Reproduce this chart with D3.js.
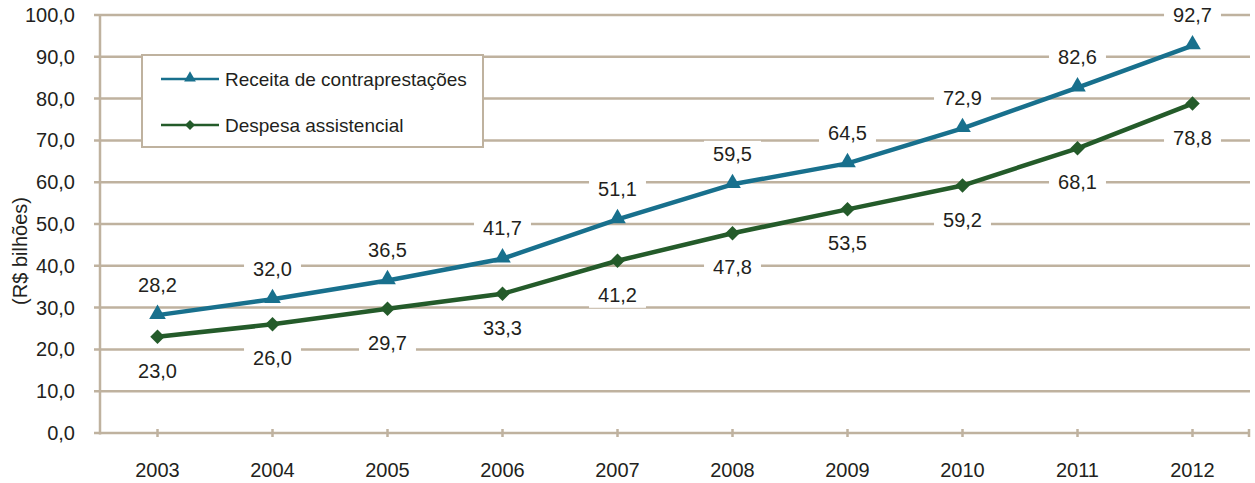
<!DOCTYPE html>
<html>
<head>
<meta charset="utf-8">
<script src="https://cdn.jsdelivr.net/npm/d3@7"></script>
<style>
  body { margin: 0; background: #fff; }
  svg { display: block; font-family: "Liberation Sans", Arial, sans-serif; }
</style>
</head>
<body>
<svg id="chart" width="1255" height="483"></svg>
<script>
const years = ["2003","2004","2005","2006","2007","2008","2009","2010","2011","2012"];
const receita = [28.2, 32.0, 36.5, 41.7, 51.1, 59.5, 64.5, 72.9, 82.6, 92.7];
const despesa = [23.0, 26.0, 29.7, 33.3, 41.2, 47.8, 53.5, 59.2, 68.1, 78.8];
const yTicks = [0, 10, 20, 30, 40, 50, 60, 70, 80, 90, 100];
const seriesNames = ["Receita de contraprestações", "Despesa assistencial"];

(function () {
const svg = d3.select("#chart");
const plotLeft = 100, plotRight = 1250, plotTop = 15, plotBottom = 433;
const gridColor = "#BFB29F";
const textColor = "#231F20";
const colReceita = "#18708D";
const colDespesa = "#245B2A";
const fmt = v => d3.format(".1f")(v).replace(".", ",");

const x = d3.scaleBand().domain(years).range([plotLeft, plotRight]);
const y = d3.scaleLinear().domain([0, 100]).range([plotBottom, plotTop]);
const cx = d => x(d) + x.bandwidth() / 2;

// horizontal gridlines with left tick stubs
svg.append("g").selectAll("line").data(yTicks).join("line")
  .attr("x1", plotLeft - 6).attr("x2", plotRight)
  .attr("y1", d => y(d)).attr("y2", d => y(d))
  .attr("stroke", gridColor).attr("stroke-width", 2.5);

// y tick labels
svg.append("g").selectAll("text").data(yTicks).join("text")
  .attr("x", 75).attr("y", d => y(d)).attr("dy", "0.35em")
  .attr("text-anchor", "end").attr("font-size", 20).attr("fill", textColor)
  .text(fmt);

// vertical axis line
svg.append("line").attr("x1", plotLeft).attr("x2", plotLeft)
  .attr("y1", plotTop).attr("y2", plotBottom + 1.5)
  .attr("stroke", gridColor).attr("stroke-width", 2.5);

// x tick marks
svg.append("g").selectAll("line").data(years).join("line")
  .attr("x1", d => cx(d)).attr("x2", d => cx(d))
  .attr("y1", plotBottom - 4).attr("y2", plotBottom + 4)
  .attr("stroke", gridColor).attr("stroke-width", 2.5);
svg.append("line").attr("x1", plotRight - 1).attr("x2", plotRight - 1)
  .attr("y1", plotBottom - 4).attr("y2", plotBottom + 4)
  .attr("stroke", gridColor).attr("stroke-width", 2.5);

// x labels
svg.append("g").selectAll("text").data(years).join("text")
  .attr("x", d => cx(d)).attr("y", 477)
  .attr("text-anchor", "middle").attr("font-size", 20).attr("fill", textColor)
  .text(d => d);

// y axis title
svg.append("text")
  .attr("transform", "translate(27,251) rotate(-90)")
  .attr("text-anchor", "middle").attr("font-size", 20).attr("fill", textColor)
  .text("(R$ bilhões)");

const line = d3.line().x((d, i) => cx(years[i])).y(d => y(d));

function drawSeries(values, color, isTriangle) {
  svg.append("path").datum(values).attr("d", line)
    .attr("fill", "none").attr("stroke", color).attr("stroke-width", 4.5)
    .attr("stroke-linejoin", "round");
  const shapePath = isTriangle
    ? d3.symbol().type(d3.symbolTriangle).size(120)()
    : d3.symbol().type(d3.symbolSquare).size(105)();
  svg.append("g").selectAll("path").data(values).join("path")
    .attr("transform", (d, i) => isTriangle
      ? `translate(${cx(years[i])},${y(d) - 1})`
      : `translate(${cx(years[i])},${y(d)}) rotate(45)`)
    .attr("d", shapePath)
    .attr("fill", color);
}
drawSeries(receita, colReceita, true);
drawSeries(despesa, colDespesa, false);

// value labels on white boxes
function drawLabels(values, offset) {
  const g = svg.append("g");
  values.forEach((v, i) => {
    const lg = g.append("g");
    const t = lg.append("text")
      .attr("x", cx(years[i])).attr("y", y(v) + offset).attr("dy", "0.35em")
      .attr("text-anchor", "middle").attr("font-size", 20).attr("fill", textColor)
      .text(fmt(v));
    const b = t.node().getBBox();
    lg.insert("rect", "text")
      .attr("x", b.x - 9).attr("y", b.y - 2)
      .attr("width", b.width + 18).attr("height", b.height + 4)
      .attr("fill", "#fff");
  });
}
drawLabels(receita, -30.5);
drawLabels(despesa, 34);

// legend
const leg = svg.append("g");
leg.append("rect").attr("x", 142).attr("y", 55).attr("width", 341).attr("height", 92)
  .attr("fill", "#fff").attr("stroke", gridColor).attr("stroke-width", 2);
const legendItems = [
  { name: seriesNames[0], color: colReceita, tri: true, yy: 79 },
  { name: seriesNames[1], color: colDespesa, tri: false, yy: 125 }
];
legendItems.forEach(it => {
  leg.append("line").attr("x1", 161).attr("x2", 219).attr("y1", it.yy).attr("y2", it.yy)
    .attr("stroke", it.color).attr("stroke-width", 2.5);
  if (it.tri) {
    leg.append("path").attr("d", d3.symbol().type(d3.symbolTriangle).size(60)())
      .attr("transform", `translate(190,${it.yy - 1})`).attr("fill", it.color);
  } else {
    leg.append("path").attr("d", d3.symbol().type(d3.symbolSquare).size(50)())
      .attr("transform", `translate(190,${it.yy}) rotate(45)`).attr("fill", it.color);
  }
  leg.append("text").attr("x", 225).attr("y", it.yy).attr("dy", "0.35em")
    .attr("font-size", 19).attr("fill", textColor).text(it.name);
});
})();
</script>
</body>
</html>
